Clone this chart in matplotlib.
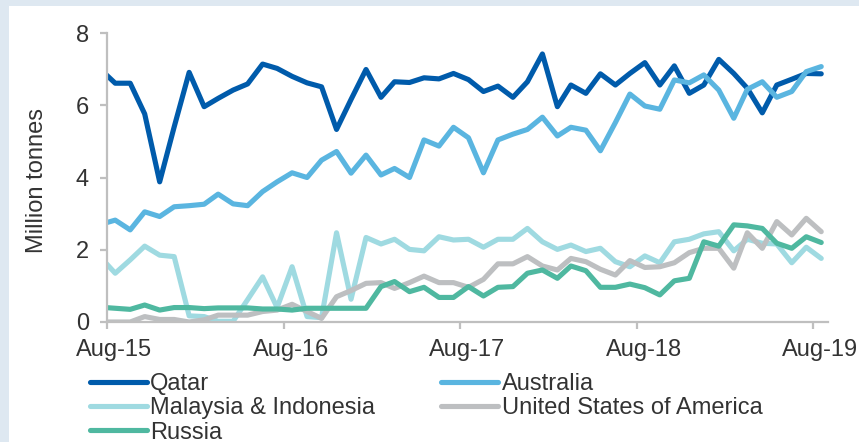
import numpy as np
import pandas as pd
import matplotlib
matplotlib.use('Agg')
import matplotlib.pyplot as plt
import matplotlib.transforms as mtransforms

plt.rcParams['font.family'] = ['Liberation Sans', 'DejaVu Sans']

# monthly data, Jul-15 .. Aug-19 (first point falls just left of the axis)
months = pd.date_range('2015-07-01', periods=50, freq='MS') + pd.Timedelta(days=17)
tick_dates = pd.date_range('2015-08-01', periods=5, freq='12MS')
tick_labels = ['Aug-15', 'Aug-16', 'Aug-17', 'Aug-18', 'Aug-19']

qatar = [7.00, 6.61, 6.61, 5.76, 3.88, 5.40, 6.91, 5.96, 6.19, 6.42,
         6.59, 7.14, 7.02, 6.80, 6.62, 6.51, 5.33, 6.16, 6.99, 6.22,
         6.65, 6.63, 6.76, 6.73, 6.88, 6.71, 6.38, 6.53, 6.22, 6.65,
         7.42, 5.96, 6.56, 6.33, 6.87, 6.56, 6.88, 7.18, 6.56, 7.09,
         6.33, 6.56, 7.27, 6.88, 6.47, 5.79, 6.56, 6.72, 6.88, 6.87]
australia = [2.70, 2.82, 2.55, 3.05, 2.92, 3.19, 3.22, 3.26, 3.54, 3.27,
             3.22, 3.61, 3.88, 4.13, 4.00, 4.48, 4.72, 4.12, 4.62, 4.07,
             4.25, 4.00, 5.04, 4.87, 5.39, 5.10, 4.13, 5.04, 5.20, 5.33,
             5.67, 5.15, 5.39, 5.31, 4.74, 5.52, 6.31, 5.98, 5.89, 6.70,
             6.62, 6.84, 6.42, 5.64, 6.44, 6.65, 6.22, 6.38, 6.93, 7.07]
malaysia = [1.80, 1.35, 1.72, 2.10, 1.85, 1.81, 0.17, 0.15, 0.02, 0.02,
            0.62, 1.25, 0.40, 1.53, 0.15, 0.12, 2.47, 0.63, 2.34, 2.16,
            2.29, 2.01, 1.97, 2.36, 2.27, 2.29, 2.07, 2.29, 2.29, 2.59,
            2.22, 2.01, 2.13, 1.95, 2.04, 1.67, 1.53, 1.83, 1.64, 2.22,
            2.29, 2.44, 2.50, 1.97, 2.29, 2.18, 2.16, 1.64, 2.07, 1.76]
usa = [0.00, 0.00, 0.00, 0.15, 0.07, 0.07, 0.00, 0.06, 0.19, 0.19,
       0.19, 0.29, 0.33, 0.49, 0.29, 0.10, 0.70, 0.87, 1.07, 1.09,
       0.93, 1.09, 1.27, 1.09, 1.09, 0.96, 1.18, 1.61, 1.61, 1.81,
       1.55, 1.44, 1.76, 1.67, 1.46, 1.30, 1.70, 1.51, 1.53, 1.64,
       1.92, 2.04, 2.04, 1.49, 2.47, 2.04, 2.78, 2.41, 2.87, 2.50]
russia = [0.41, 0.38, 0.35, 0.47, 0.33, 0.40, 0.40, 0.37, 0.39, 0.39,
          0.39, 0.36, 0.36, 0.33, 0.38, 0.38, 0.38, 0.38, 0.38, 0.98,
          1.12, 0.84, 0.96, 0.68, 0.68, 0.98, 0.72, 0.96, 0.98, 1.35,
          1.44, 1.21, 1.55, 1.42, 0.96, 0.96, 1.05, 0.95, 0.75, 1.14,
          1.21, 2.22, 2.10, 2.69, 2.66, 2.59, 2.18, 2.04, 2.36, 2.20]

names = ['Qatar', 'Australia', 'Malaysia & Indonesia', 'United States of America', 'Russia']
series = [qatar, australia, malaysia, usa, russia]
colors = ['#005bab', '#5ab5e0', '#9fdae1', '#bdbfc1', '#4fb8a0']

fig = plt.figure(figsize=(8.59, 4.42), dpi=100, facecolor='#dee8f1')
fig.add_artist(plt.Rectangle((9 / 859, 0), 1, 1 - 6 / 442, transform=fig.transFigure,
                             facecolor='white', edgecolor='none', zorder=0))
ax = fig.add_axes([107 / 859, 1 - 322 / 442, (828 - 107) / 859, (322 - 33) / 442])
ax.set_facecolor('none')

lines = []
for vals, name, col in zip(series, names, colors):
    ln, = ax.plot(months, vals, color=col, lw=3.7, label=name,
                  solid_joinstyle='round', solid_capstyle='round')
    lines.append(ln)

ax.set_ylim(0, 8)
ax.set_yticks([0, 2, 4, 6, 8])
ax.set_xlim(pd.Timestamp('2015-08-01'), pd.Timestamp('2019-09-01'))
ax.set_xticks(tick_dates)
ax.set_xticklabels(tick_labels)

for s in ['top', 'right']:
    ax.spines[s].set_visible(False)
for s in ['left', 'bottom']:
    ax.spines[s].set_color('#bfbfbf')
    ax.spines[s].set_linewidth(1.6)

ax.tick_params(length=5, width=1.6, color='#bfbfbf', labelsize=17, labelcolor='#333333')
ax.tick_params(axis='y', pad=8)
ax.tick_params(axis='x', pad=7)
offset = mtransforms.ScaledTranslation(7 / 100, 0, fig.dpi_scale_trans)
for lbl in ax.get_xticklabels():
    lbl.set_transform(lbl.get_transform() + offset)

ax.set_ylabel('Million tonnes', fontsize=17, color='#333333')
ax.yaxis.set_label_coords(-0.082, 0.49)

order = [0, 2, 4, 1, 3]
fig.legend([lines[i] for i in order], [names[i] for i in order],
           loc='upper left', bbox_to_anchor=(90 / 859, 1 - 373 / 442), ncol=2,
           frameon=False, fontsize=17, handlelength=2.4, handletextpad=0.15,
           columnspacing=2.8, labelspacing=0.1, borderpad=0, borderaxespad=0,
           labelcolor='#333333')

fig.savefig('out.png', dpi=100, facecolor=fig.get_facecolor())
